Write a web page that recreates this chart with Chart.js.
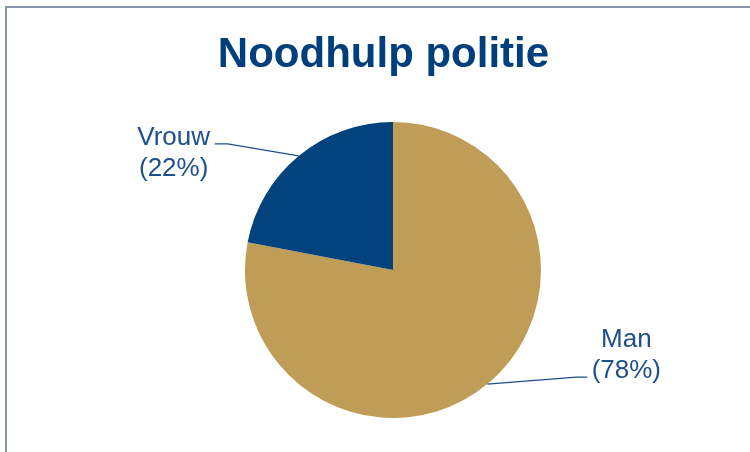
<!DOCTYPE html>
<html>
<head>
<meta charset="utf-8">
<script src="https://cdn.jsdelivr.net/npm/chart.js@4/dist/chart.umd.min.js"></script>
<style>
  html, body { margin: 0; padding: 0; background: #ffffff; }
  #wrap { position: relative; width: 750px; height: 452px; overflow: hidden; }
  #frame {
    position: absolute; left: 5px; top: 6px; width: 800px; height: 500px;
    border-top: 2px solid #8a93ad; border-left: 2px solid #8a93ad;
    pointer-events: none;
  }
  canvas { position: absolute; left: 0; top: 0; }
</style>
</head>
<body>
<div id="wrap">
  <canvas id="pieChart" width="750" height="452"></canvas>
  <div id="frame"></div>
</div>
<script>
// Chart data
const chartTitle = "Noodhulp politie";
const categories = ["Man", "Vrouw"];
const percentages = [78, 22];
const sliceColors = ["#bf9d56", "#02437d"];

// Label placement relative to the slice edge (style only)
const labelStyle = [
  { dx: 89, dy: -7, hook: 11, textDx: 39, textDy: -30 },
  { dx: -71, dy: -12, hook: -13, textDx: -41, textDy: 1 },
];

const textColor = "#1d4f8c";
const fontFamily = '"Liberation Sans", Arial, sans-serif';

// Draw title, leader lines and labels
const labelPlugin = {
  id: "pieLabels",
  afterDraw(chart) {
    const ctx = chart.ctx;
    ctx.save();

    // Title
    ctx.fillStyle = "#003f7d";
    ctx.font = "bold 42px " + fontFamily;
    ctx.textAlign = "center";
    ctx.textBaseline = "alphabetic";
    ctx.fillText(chartTitle, 383.5, 67);

    const meta = chart.getDatasetMeta(0);
    meta.data.forEach((arc, i) => {
      const p = arc.getProps(["x", "y", "startAngle", "endAngle", "outerRadius"], true);
      const mid = (p.startAngle + p.endAngle) / 2;
      const ex = p.x + Math.cos(mid) * p.outerRadius;
      const ey = p.y + Math.sin(mid) * p.outerRadius;
      const s = labelStyle[i];
      const bx = ex + s.dx;
      const by = ey + s.dy;
      const tx = bx + s.hook;

      // Leader line
      ctx.strokeStyle = textColor;
      ctx.lineWidth = 1.3;
      ctx.beginPath();
      ctx.moveTo(ex, ey);
      ctx.lineTo(bx, by);
      ctx.lineTo(tx, by);
      ctx.stroke();

      // Label text
      ctx.fillStyle = textColor;
      ctx.font = "26px " + fontFamily;
      ctx.textAlign = "center";
      ctx.fillText(categories[i], tx + s.textDx, by + s.textDy);
      ctx.fillText("(" + percentages[i] + "%)", tx + s.textDx, by + s.textDy + 31);
    });

    ctx.restore();
  },
};

const ctx = document.getElementById("pieChart").getContext("2d");
const pieChart = new Chart(ctx, {
  type: "pie",
  data: {
    labels: categories,
    datasets: [
      {
        data: percentages,
        backgroundColor: sliceColors,
        borderWidth: 0,
      },
    ],
  },
  options: {
    responsive: false,
    animation: false,
    layout: {
      padding: { left: 245, right: 209, top: 122, bottom: 34 },
    },
    plugins: {
      legend: { display: false },
      tooltip: { enabled: false },
      title: { display: false },
    },
  },
  plugins: [labelPlugin],
});
</script>
</body>
</html>
